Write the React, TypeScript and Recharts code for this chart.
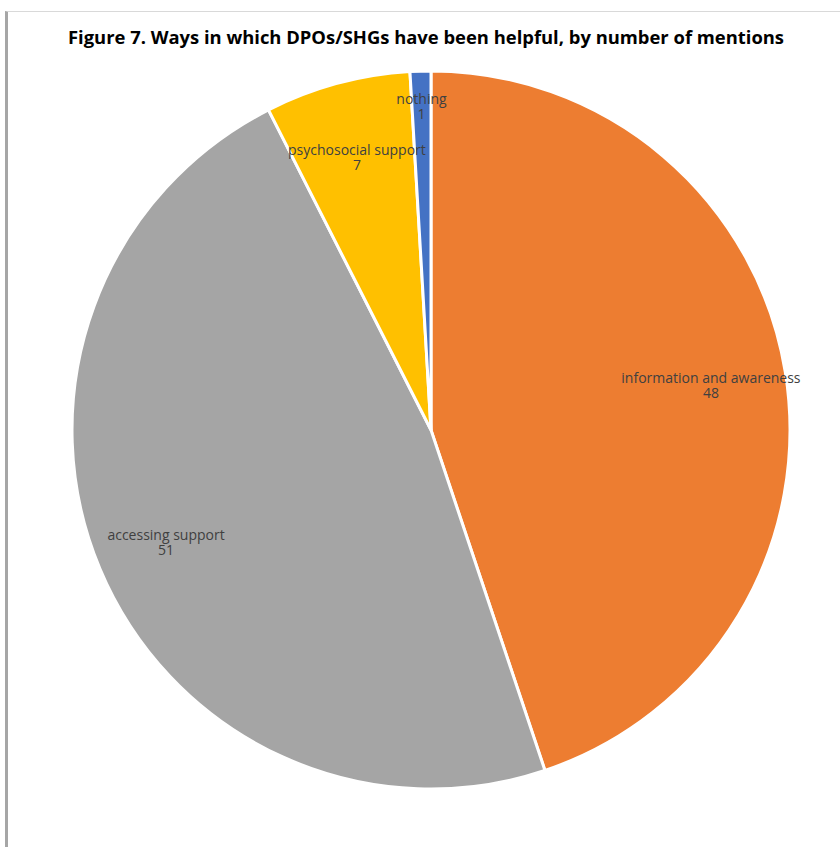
import React from 'react';
import { PieChart, Pie, Cell } from 'recharts';

const categories = ['information and awareness', 'accessing support', 'psychosocial support', 'nothing'];
const mentions = [48, 51, 7, 1];
const colors = ['#ED7D31', '#A5A5A5', '#FFC000', '#4472C4'];

const data = categories.map((name, i) => ({ name, value: mentions[i] }));

// how far out each label sits, as a share of the radius
const labelSpread = [0.79, 0.8, 0.79, 0.905];

const RADIAN = Math.PI / 180;

const renderLabel = (props: any) => {
  const { cx, cy, midAngle, outerRadius, index, name, value } = props;
  const r = outerRadius * labelSpread[index];
  const x = cx + r * Math.cos(-midAngle * RADIAN);
  const y = cy + r * Math.sin(-midAngle * RADIAN);
  return (
    <text x={x} y={y} textAnchor="middle" fill="#404040" fontSize={14} fontFamily="'Open Sans', sans-serif">
      <tspan x={x} dy={-1}>{name}</tspan>
      <tspan x={x} dy={15}>{value}</tspan>
    </text>
  );
};

const App: React.FC = () => {
  return (
    <div
      style={{
        position: 'absolute',
        top: 0,
        left: 0,
        width: 840,
        height: 847,
        background: '#fff',
        overflow: 'hidden',
      }}
    >
      <div
        style={{
          position: 'absolute',
          top: 11,
          left: 5,
          right: 0,
          bottom: 0,
          borderTop: '1px solid #d9d9d9',
          borderLeft: '3px solid #a6a6a6',
        }}
      />
      <div
        style={{
          position: 'absolute',
          top: 24,
          left: 6,
          width: 840,
          textAlign: 'center',
          fontFamily: "'Open Sans', sans-serif",
          fontWeight: 700,
          fontSize: 18.4,
          color: '#000',
          whiteSpace: 'nowrap',
        }}
      >
        Figure 7. Ways in which DPOs/SHGs have been helpful, by number of mentions
      </div>
      <div style={{ position: 'absolute', top: 0, left: 0 }}>
        <PieChart width={840} height={847} margin={{ top: 0, right: 0, bottom: 0, left: 0 }}>
          <Pie
            data={data}
            dataKey="value"
            nameKey="name"
            cx={431}
            cy={430}
            outerRadius={359}
            startAngle={90}
            endAngle={-270}
            stroke="#fff"
            strokeWidth={3}
            label={renderLabel}
            labelLine={false}
            isAnimationActive={false}
          >
            {data.map((d, i) => (
              <Cell key={d.name} fill={colors[i]} />
            ))}
          </Pie>
        </PieChart>
      </div>
    </div>
  );
};

export default App;
